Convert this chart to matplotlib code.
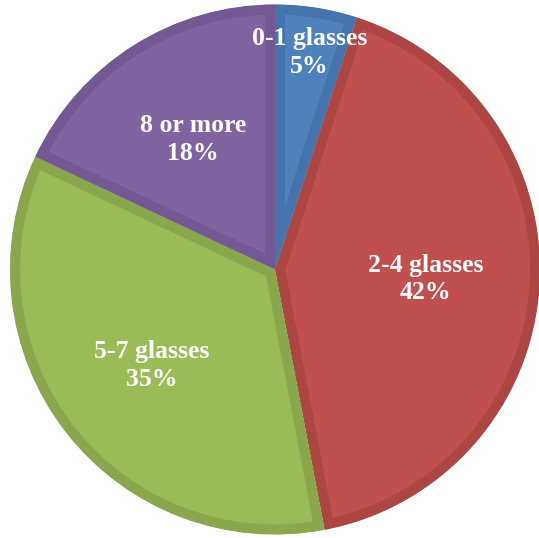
import numpy as np
import matplotlib
matplotlib.use("Agg")
import matplotlib.pyplot as plt

# Glasses of water per day
categories = ["0-1 glasses", "2-4 glasses", "5-7 glasses", "8 or more"]
shares = [5, 42, 35, 18]

fill_colors = ["#4F81BD", "#C0504D", "#9BBB59", "#8064A2"]
edge_colors = ["#4574AC", "#AB4643", "#8AA74E", "#725993"]
label_dist = [0.83, 0.57, 0.59, 0.58]

fig = plt.figure(figsize=(5.39, 5.38), dpi=100)
ax = fig.add_axes([0, 0, 1, 1])

cx, cy, R = 275, 268.5, 265
wedges, _ = ax.pie(shares, startangle=90, counterclock=False,
                   center=(cx, cy), radius=R, colors=fill_colors,
                   frame=True)
ax.set_xlim(0, 539)
ax.set_ylim(0, 538)
ax.set_aspect("equal")
ax.axis("off")

for w, ec, name, pct, d in zip(wedges, edge_colors, categories, shares, label_dist):
    # darker inner rim: stroke the outline and clip it to the wedge itself
    w.set_edgecolor(ec)
    w.set_linewidth(14.5)
    w.set_joinstyle("miter")
    w.set_clip_on(True)
    w.set_clip_path(w)
    mid = np.deg2rad((w.theta1 + w.theta2) / 2)
    x = cx + d * R * np.cos(mid)
    y = cy + d * R * np.sin(mid)
    ax.text(x, y, f"{name}\n{pct}%", ha="center", va="center",
            color="white", fontsize=18.5, fontweight="bold",
            family="Liberation Serif", linespacing=1.25)

fig.savefig("out.png", dpi=100)
